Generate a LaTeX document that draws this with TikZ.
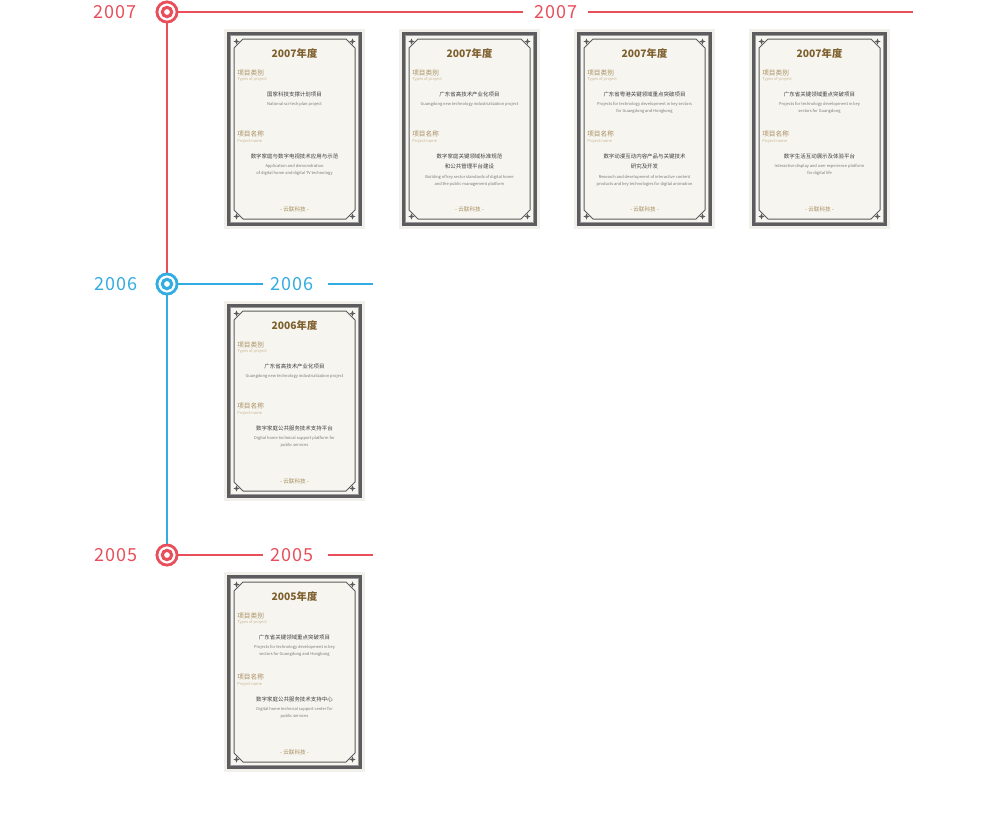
\documentclass[tikz,border=0pt]{standalone}
\usepackage{fontspec}
\newfontfamily\cjk{Noto Sans CJK SC}
\newfontfamily\yearfont[LetterSpace=4]{Noto Sans CJK SC}
\usetikzlibrary{shapes.geometric}
\definecolor{tlred}{HTML}{E94E5B}
\definecolor{tlblue}{HTML}{33ACE2}
\definecolor{cardoutc}{HTML}{F2F0EA}
\definecolor{cardinc}{HTML}{F6F5F0}
\definecolor{framec}{HTML}{5C5C5E}
\definecolor{framelc}{HTML}{9A9A9C}
\definecolor{titlec}{HTML}{7E602E}
\definecolor{labc}{HTML}{A88D5E}
\definecolor{labec}{HTML}{C8B592}
\definecolor{cnc}{HTML}{3E3E3E}
\definecolor{enc}{HTML}{777777}
\newcommand\certcard[9]{%
 \begin{scope}[shift={(#2,#3)}]
  \fill[cardout] (0,0) rectangle (141,200);
  \fill[cardin] (4.5,4.5) rectangle (136.5,195.5);
  \draw[cardband] (4.5,4.5) rectangle (136.5,195.5);
  \draw[cardthin] (6.7,6.7) rectangle (134.3,193.3);
  \draw[cardline] (10,19) -- (19,10) -- (122,10) -- (131,19) -- (131,181) -- (122,190) -- (19,190) -- (10,181) -- cycle;
  \foreach \sx/\sy [count=\k] in {12.5/12.5,128.5/12.5,12.5/187.5,128.5/187.5} \node[cstar] (#1-s\k) at (\sx,\sy) {};
  \node[ctitle] (#1-title) at (70.5,25) {#4年度};
  \node[clab] (#1-l1) at (13,44) {项目类别};
  \node[clabe] (#1-l1e) at (13,50.5) {Types of project};
  \node[ccn] (#1-type) at (70.5,65) {#5};
  \foreach \t [count=\i] in {#6} \node[cen] (#1-te\i) at (70.5,75+7*\i-7) {\t};
  \node[clab] (#1-l2) at (13,105) {项目名称};
  \node[clabe] (#1-l2e) at (13,112.5) {Project name};
  \foreach \t [count=\i] in {#7} \node[ccn] (#1-nc\i) at (70.5,127+10*\i-10) {\t};
  \foreach \t [count=\i] in {#8} \node[cen] (#1-ne\i) at (70.5,#9+7*\i-7) {\t};
  \node[cbrand] (#1-brand) at (70.5,180) {- 云联科技 -};
 \end{scope}}
\begin{document}
\begin{tikzpicture}[x=0.75pt,y=-0.75pt,
  cardout/.style={fill=cardoutc},
  cardin/.style={fill=cardinc},
  cardband/.style={draw=framec,line width=2.4pt},
  cardthin/.style={draw=framelc,line width=0.6pt},
  cardline/.style={draw=framec,line width=0.75pt},
  cstar/.style={star,star points=4,star point ratio=2.6,fill=framec,draw=none,inner sep=0pt,minimum size=4.6pt},
  ctitle/.style={font=\cjk\bfseries\fontsize{7.7}{9}\selectfont,text=titlec,inner sep=0pt},
  clab/.style={font=\cjk\fontsize{5}{6}\selectfont,text=labc,anchor=west,inner sep=0pt},
  clabe/.style={font=\cjk\fontsize{3}{4}\selectfont,text=labec,anchor=west,inner sep=0pt},
  ccn/.style={font=\cjk\fontsize{4.1}{5}\selectfont,text=cnc,inner sep=0pt},
  cen/.style={font=\cjk\fontsize{3}{4}\selectfont,text=enc,inner sep=0pt},
  cbrand/.style={font=\cjk\fontsize{4.2}{5}\selectfont,text=labc,inner sep=0pt},
  ringout/.style={circle,draw=#1,line width=2pt,minimum size=15pt,inner sep=0pt,fill=white},
  ringin/.style={circle,draw=#1,line width=2.3pt,minimum size=7pt,inner sep=0pt},
  vline/.style={draw=#1,line width=1.7pt},
  hline/.style={draw=#1,line width=0.9pt},
  yearlab/.style={font=\yearfont\fontsize{13.5}{15}\selectfont,text=#1,inner sep=0pt}
]
\fill[white] (0,0) rectangle (1000,839);
\useasboundingbox (0,0) rectangle (1000,839);

% timeline circles
\node[ringout=tlred] (c07) at (167,12) {};
\node[ringout=tlblue] (c06) at (167,284) {};
\node[ringout=tlred] (c05) at (167,555) {};
\draw[vline=tlred] (c07.south) -- (c06.north);
\draw[vline=tlblue] (c06.south) -- (c05.north);
\node[ringout=tlred] (c07b) at (167,12) {};
\node[ringout=tlblue] (c06b) at (167,284) {};
\node[ringout=tlred] (c05b) at (167,555) {};
\node[ringin=tlred] (c07i) at (167,12) {};
\node[ringin=tlblue] (c06i) at (167,284) {};
\node[ringin=tlred] (c05i) at (167,555) {};

% year labels left
\node[yearlab=tlred] (y07l) at (115,12) {2007};
\node[yearlab=tlblue] (y06l) at (116,284) {2006};
\node[yearlab=tlred] (y05l) at (116,555) {2005};

% horizontal lines and labels
\node[yearlab=tlred] (y07r) at (556,12) {2007};
\node[yearlab=tlblue] (y06r) at (292,284) {2006};
\node[yearlab=tlred] (y05r) at (292,555) {2005};
\coordinate (a07) at (523,12); \coordinate (b07) at (588,12); \coordinate (e07) at (913,12);
\coordinate (a06) at (263,284); \coordinate (b06) at (328,284); \coordinate (e06) at (373,284);
\coordinate (a05) at (263,555); \coordinate (b05) at (328,555); \coordinate (e05) at (373,555);
\draw[hline=tlred] (c07.east) -- (a07);
\draw[hline=tlred] (b07) -- (e07);
\draw[hline=tlblue] (c06.east) -- (a06);
\draw[hline=tlblue] (b06) -- (e06);
\draw[hline=tlred] (c05.east) -- (a05);
\draw[hline=tlred] (b05) -- (e05);

% certificates
\certcard{k1}{224}{29}{2007}{国家科技支撑计划项目}{National sci-tech plan project}{数字家庭与数字电视技术应用与示范}{Application and demonstration,of digital home and digital TV technology}{137}
\certcard{k2}{399}{29}{2007}{广东省高技术产业化项目}{Guangdong new technology industrialization project}{数字家庭关键领域标准规范,和公共管理平台建设}{Building of key sector standards of digital home,and the public management platform}{148}
\certcard{k3}{574}{29}{2007}{广东省粤港关键领域重点突破项目}{Projects for technology development in key sectors,for Guangdong and Hongkong}{数字动漫互动内容产品与关键技术,研究及开发}{Research and development of interactive content,products and key technologies for digital animation}{148}
\certcard{k4}{749}{29}{2007}{广东省关键领域重点突破项目}{Projects for technology development in key,sectors for Guangdong}{数字生活互动展示及体验平台}{Interactive display and user experience platform,for digital life}{137}
\certcard{k5}{224}{301}{2006}{广东省高技术产业化项目}{Guangdong new technology industrialization project}{数字家庭公共服务技术支持平台}{Digital home technical support platform for,public services}{137}
\certcard{k6}{224}{572}{2005}{广东省关键领域重点突破项目}{Projects for technology development in key,sectors for Guangdong and Hongkong}{数字家庭公共服务技术支持中心}{Digital home technical support center for,public services}{137}
\end{tikzpicture}
\end{document}
